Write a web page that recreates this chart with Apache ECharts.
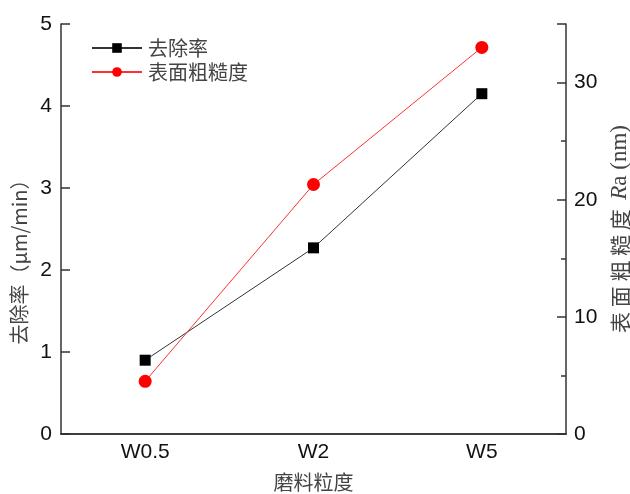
<!DOCTYPE html>
<html>
<head>
<meta charset="utf-8">
<script src="https://cdn.jsdelivr.net/npm/echarts@6/dist/echarts.min.js"></script>
<style>
  html, body {margin: 0; padding: 0; background: #fff;}
</style>
</head>
<body>
<div id="chart" style="width: 630px;height: 494px;"></div>
<script>
const categories = ['W0.5', 'W2', 'W5'];
const removalRate = [0.90, 2.27, 4.15];   // 去除率 μm/min
const roughness = [4.5, 21.3, 33.0];      // 表面粗糙度 Ra nm

const axisColor = '#333';
const labelFont = {fontFamily: 'Liberation Sans', fontSize: 21, color: '#111'};
const cjkFont = {fontFamily: 'Noto Sans CJK SC', fontSize: 20, color: '#444'};

let option = {
  animation: false,
  grid: {left: 61, right: 64, top: 24, bottom: 60, outerBoundsMode: 'none'},
  legend: {
    orient: 'vertical',
    left: 86,
    top: 33,
    itemWidth: 50,
    itemHeight: 12,
    itemGap: 4,
    textStyle: Object.assign({padding: [0, 0, 0, 1]}, cjkFont),
    data: ['去除率', '表面粗糙度'],
  },
  xAxis: [
    {
      type: 'category',
      data: categories,
      name: '磨料粒度',
      nameLocation: 'middle',
      nameGap: 38,
      nameTextStyle: cjkFont,
      axisLine: {lineStyle: {color: axisColor, width: 1.5}},
      axisTick: {alignWithLabel: true, inside: true, length: 8, lineStyle: {color: axisColor, width: 1.5}},
      axisLabel: Object.assign({margin: 8}, labelFont),
    },
    {
      type: 'category',
      position: 'top',
      data: categories,
      axisLine: {lineStyle: {color: axisColor, width: 1.5}},
      axisTick: {show: false},
      axisLabel: {show: false},
    },
  ],
  yAxis: [
    {
      type: 'value',
      min: 0,
      max: 5,
      interval: 1,
      name: '去除率（μm/min）',
      nameLocation: 'middle',
      nameRotate: 90,
      nameGap: 30,
      nameTextStyle: Object.assign({padding: [0, 0, 0, -56]}, cjkFont),
      splitLine: {show: false},
      axisLine: {show: true, lineStyle: {color: axisColor, width: 1.5}},
      axisTick: {show: true, inside: true, length: 9, lineStyle: {color: axisColor, width: 1.5}},
      axisLabel: Object.assign({margin: 9}, labelFont),
    },
    {
      type: 'value',
      min: 0,
      max: 35,
      interval: 10,
      position: 'right',
      name: '{a|表 面 粗 糙 度  }{i|R}{b|a (nm)}',
      nameLocation: 'middle',
      nameRotate: 90,
      nameGap: 40,
      nameTextStyle: {
        rich: {
          a: {fontFamily: 'Noto Sans CJK SC', fontSize: 21, color: '#444'},
          i: {fontFamily: 'Liberation Serif', fontStyle: 'italic', fontSize: 23, color: '#444'},
          b: {fontFamily: 'Liberation Serif', fontSize: 23, color: '#444'},
        },
      },
      splitLine: {show: false},
      axisLine: {show: true, lineStyle: {color: axisColor, width: 1.5}},
      axisTick: {show: true, inside: true, length: 9, lineStyle: {color: axisColor, width: 1.5}},
      minorTick: {show: true, splitNumber: 2, length: 5, lineStyle: {color: axisColor, width: 1.5}},
      axisLabel: Object.assign({margin: 8, showMaxLabel: false}, labelFont),
    },
  ],
  series: [
    {
      name: '去除率',
      type: 'line',
      data: removalRate,
      yAxisIndex: 0,
      symbol: 'rect',
      symbolSize: 11,
      itemStyle: {color: '#000'},
      lineStyle: {color: '#333', width: 1},
    },
    {
      name: '表面粗糙度',
      type: 'line',
      data: roughness,
      yAxisIndex: 1,
      symbol: 'circle',
      symbolSize: 13,
      itemStyle: {color: '#ff0000'},
      lineStyle: {color: '#ff3030', width: 1},
    },
  ],
};

let chart = echarts.init(document.getElementById('chart'), null, {width: 630, height: 494});
chart.setOption(option);
</script>
</body>
</html>
